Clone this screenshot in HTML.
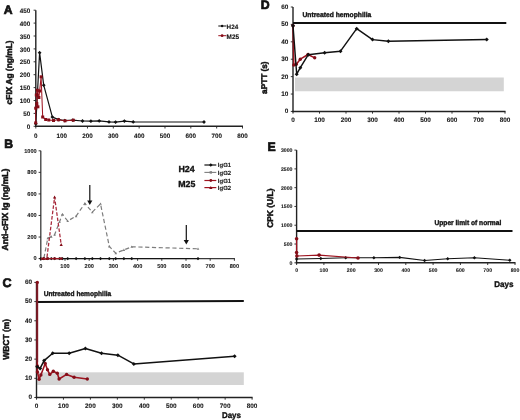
<!DOCTYPE html>
<html><head><meta charset="utf-8"><style>
html,body{margin:0;padding:0;background:#fff;width:520px;height:420px;overflow:hidden}
svg{display:block;will-change:transform;filter:blur(0.35px)}
text{font-family:"Liberation Sans", sans-serif;text-rendering:geometricPrecision;stroke:#111;stroke-width:0.35px;paint-order:stroke}
text.tk{stroke-width:0.1px}
</style></head><body>
<svg width="520" height="420" viewBox="0 0 520 420">
<rect width="520" height="420" fill="#fff"/>
<text x="8.25" y="13.5" font-size="12.2" text-anchor="middle" font-weight="bold" fill="#111" style="stroke-width:0.7px">A</text>
<line x1="35.8" y1="10.2" x2="35.8" y2="127" stroke="#222" stroke-width="1.4" />
<line x1="35.1" y1="126.3" x2="243" y2="126.3" stroke="#222" stroke-width="1.4" />
<line x1="33.6" y1="126.3" x2="35.8" y2="126.3" stroke="#222" stroke-width="0.9" />
<text x="30.3" y="128.92" font-size="6.3" text-anchor="end" font-weight="bold" fill="#1a1a1a" class="tk">0</text>
<line x1="33.6" y1="113.4" x2="35.8" y2="113.4" stroke="#222" stroke-width="0.9" />
<text x="30.3" y="116.02" font-size="6.3" text-anchor="end" font-weight="bold" fill="#1a1a1a" class="tk">50</text>
<line x1="33.6" y1="100.5" x2="35.8" y2="100.5" stroke="#222" stroke-width="0.9" />
<text x="30.3" y="103.12" font-size="6.3" text-anchor="end" font-weight="bold" fill="#1a1a1a" class="tk">100</text>
<line x1="33.6" y1="87.6" x2="35.8" y2="87.6" stroke="#222" stroke-width="0.9" />
<text x="30.3" y="90.22" font-size="6.3" text-anchor="end" font-weight="bold" fill="#1a1a1a" class="tk">150</text>
<line x1="33.6" y1="74.7" x2="35.8" y2="74.7" stroke="#222" stroke-width="0.9" />
<text x="30.3" y="77.32" font-size="6.3" text-anchor="end" font-weight="bold" fill="#1a1a1a" class="tk">200</text>
<line x1="33.6" y1="61.8" x2="35.8" y2="61.8" stroke="#222" stroke-width="0.9" />
<text x="30.3" y="64.42" font-size="6.3" text-anchor="end" font-weight="bold" fill="#1a1a1a" class="tk">250</text>
<line x1="33.6" y1="48.9" x2="35.8" y2="48.9" stroke="#222" stroke-width="0.9" />
<text x="30.3" y="51.52" font-size="6.3" text-anchor="end" font-weight="bold" fill="#1a1a1a" class="tk">300</text>
<line x1="33.6" y1="36" x2="35.8" y2="36" stroke="#222" stroke-width="0.9" />
<text x="30.3" y="38.62" font-size="6.3" text-anchor="end" font-weight="bold" fill="#1a1a1a" class="tk">350</text>
<line x1="33.6" y1="23.1" x2="35.8" y2="23.1" stroke="#222" stroke-width="0.9" />
<text x="30.3" y="25.72" font-size="6.3" text-anchor="end" font-weight="bold" fill="#1a1a1a" class="tk">400</text>
<line x1="33.6" y1="10.2" x2="35.8" y2="10.2" stroke="#222" stroke-width="0.9" />
<text x="30.3" y="12.82" font-size="6.3" text-anchor="end" font-weight="bold" fill="#1a1a1a" class="tk">450</text>
<line x1="35.8" y1="126.3" x2="35.8" y2="128.5" stroke="#222" stroke-width="0.9" />
<text x="35.8" y="138.27" font-size="6.3" text-anchor="middle" font-weight="bold" fill="#1a1a1a" class="tk">0</text>
<line x1="61.64" y1="126.3" x2="61.64" y2="128.5" stroke="#222" stroke-width="0.9" />
<text x="61.64" y="138.27" font-size="6.3" text-anchor="middle" font-weight="bold" fill="#1a1a1a" class="tk">100</text>
<line x1="87.47" y1="126.3" x2="87.47" y2="128.5" stroke="#222" stroke-width="0.9" />
<text x="87.47" y="138.27" font-size="6.3" text-anchor="middle" font-weight="bold" fill="#1a1a1a" class="tk">200</text>
<line x1="113.31" y1="126.3" x2="113.31" y2="128.5" stroke="#222" stroke-width="0.9" />
<text x="113.31" y="138.27" font-size="6.3" text-anchor="middle" font-weight="bold" fill="#1a1a1a" class="tk">300</text>
<line x1="139.15" y1="126.3" x2="139.15" y2="128.5" stroke="#222" stroke-width="0.9" />
<text x="139.15" y="138.27" font-size="6.3" text-anchor="middle" font-weight="bold" fill="#1a1a1a" class="tk">400</text>
<line x1="164.99" y1="126.3" x2="164.99" y2="128.5" stroke="#222" stroke-width="0.9" />
<text x="164.99" y="138.27" font-size="6.3" text-anchor="middle" font-weight="bold" fill="#1a1a1a" class="tk">500</text>
<line x1="190.82" y1="126.3" x2="190.82" y2="128.5" stroke="#222" stroke-width="0.9" />
<text x="190.82" y="138.27" font-size="6.3" text-anchor="middle" font-weight="bold" fill="#1a1a1a" class="tk">600</text>
<line x1="216.66" y1="126.3" x2="216.66" y2="128.5" stroke="#222" stroke-width="0.9" />
<text x="216.66" y="138.27" font-size="6.3" text-anchor="middle" font-weight="bold" fill="#1a1a1a" class="tk">700</text>
<line x1="242.5" y1="126.3" x2="242.5" y2="128.5" stroke="#222" stroke-width="0.9" />
<text x="242.5" y="138.27" font-size="6.3" text-anchor="middle" font-weight="bold" fill="#1a1a1a" class="tk">800</text>
<text transform="translate(12,72.4) rotate(-90)" font-size="8.5" font-weight="bold" text-anchor="middle" fill="#111" style="stroke-width:0.5px" textLength="64" lengthAdjust="spacingAndGlyphs">cFIX Ag (ng/mL)</text>
<polyline points="35.8,123.7 39.6,52.7 43.7,85.2 52.4,117.1 58.7,119.6 64.8,120.6 72.9,120.2 82.5,121 90.9,121.2 99.2,120.9 109,121.9 115.6,122.1 124.4,121.1 133.2,121.9 204,122" fill="none" stroke="#111" stroke-width="1.2" stroke-linejoin="round" />
<path d="M35.8 121.8L37.7 123.7L35.8 125.6L33.9 123.7Z" fill="#111"/>
<path d="M39.6 50.8L41.5 52.7L39.6 54.6L37.7 52.7Z" fill="#111"/>
<path d="M43.7 83.3L45.6 85.2L43.7 87.1L41.8 85.2Z" fill="#111"/>
<path d="M52.4 115.2L54.3 117.1L52.4 119L50.5 117.1Z" fill="#111"/>
<path d="M58.7 117.7L60.6 119.6L58.7 121.5L56.8 119.6Z" fill="#111"/>
<path d="M64.8 118.7L66.7 120.6L64.8 122.5L62.9 120.6Z" fill="#111"/>
<path d="M72.9 118.3L74.8 120.2L72.9 122.1L71 120.2Z" fill="#111"/>
<path d="M82.5 119.1L84.4 121L82.5 122.9L80.6 121Z" fill="#111"/>
<path d="M90.9 119.3L92.8 121.2L90.9 123.1L89 121.2Z" fill="#111"/>
<path d="M99.2 119L101.1 120.9L99.2 122.8L97.3 120.9Z" fill="#111"/>
<path d="M109 120L110.9 121.9L109 123.8L107.1 121.9Z" fill="#111"/>
<path d="M115.6 120.2L117.5 122.1L115.6 124L113.7 122.1Z" fill="#111"/>
<path d="M124.4 119.2L126.3 121.1L124.4 123L122.5 121.1Z" fill="#111"/>
<path d="M133.2 120L135.1 121.9L133.2 123.8L131.3 121.9Z" fill="#111"/>
<path d="M204 120.1L205.9 122L204 123.9L202.1 122Z" fill="#111"/>
<polyline points="35.7,122.9 35.7,108.2 36.8,103.6 37.9,106.8 36.3,95 37.3,90.2 38.9,97.5 39.6,91 41.1,76.8 42.7,117 45.7,119.5 48.8,120 53.5,120.5 58.5,119.8 65,120.8 73.3,120.2" fill="none" stroke="#9e1420" stroke-width="1.05" stroke-linejoin="round" />
<rect x="34.2" y="121.4" width="3" height="3" fill="#850d18"/>
<rect x="34.2" y="106.7" width="3" height="3" fill="#850d18"/>
<rect x="35.3" y="102.1" width="3" height="3" fill="#850d18"/>
<rect x="36.4" y="105.3" width="3" height="3" fill="#850d18"/>
<rect x="34.8" y="93.5" width="3" height="3" fill="#850d18"/>
<rect x="35.8" y="88.7" width="3" height="3" fill="#850d18"/>
<rect x="37.4" y="96" width="3" height="3" fill="#850d18"/>
<rect x="38.1" y="89.5" width="3" height="3" fill="#850d18"/>
<rect x="39.6" y="75.3" width="3" height="3" fill="#850d18"/>
<rect x="41.2" y="115.5" width="3" height="3" fill="#850d18"/>
<rect x="44.2" y="118" width="3" height="3" fill="#850d18"/>
<rect x="47.3" y="118.5" width="3" height="3" fill="#850d18"/>
<rect x="52" y="119" width="3" height="3" fill="#850d18"/>
<rect x="57" y="118.3" width="3" height="3" fill="#850d18"/>
<rect x="63.5" y="119.3" width="3" height="3" fill="#850d18"/>
<rect x="71.8" y="118.7" width="3" height="3" fill="#850d18"/>
<line x1="218.3" y1="26" x2="226.4" y2="26" stroke="#111" stroke-width="1.0" />
<circle cx="222.1" cy="26" r="1.2" fill="#111"/>
<text x="226.6" y="29.2" font-size="6.3" text-anchor="start" font-weight="bold" fill="#111" class="tk">H24</text>
<line x1="218.3" y1="35.7" x2="226.4" y2="35.7" stroke="#9e1420" stroke-width="1.0" />
<circle cx="222.1" cy="35.7" r="1.4" fill="#850d18"/>
<text x="226.6" y="38.6" font-size="6.4" text-anchor="start" font-weight="bold" fill="#111" class="tk">M25</text>
<text x="8.55" y="147.8" font-size="12.2" text-anchor="middle" font-weight="bold" fill="#111" style="stroke-width:0.7px">B</text>
<line x1="40.8" y1="150.8" x2="40.8" y2="259.3" stroke="#3a3a3a" stroke-width="1.3" />
<line x1="40.1" y1="258.6" x2="234.9" y2="258.6" stroke="#3a3a3a" stroke-width="1.3" />
<line x1="38.6" y1="258.6" x2="40.8" y2="258.6" stroke="#222" stroke-width="0.9" />
<text x="36.7" y="260.37" font-size="5.6" text-anchor="end" font-weight="bold" fill="#1a1a1a" class="tk">0</text>
<line x1="38.6" y1="237.04" x2="40.8" y2="237.04" stroke="#222" stroke-width="0.9" />
<text x="36.7" y="238.81" font-size="5.6" text-anchor="end" font-weight="bold" fill="#1a1a1a" class="tk">200</text>
<line x1="38.6" y1="215.48" x2="40.8" y2="215.48" stroke="#222" stroke-width="0.9" />
<text x="36.7" y="217.25" font-size="5.6" text-anchor="end" font-weight="bold" fill="#1a1a1a" class="tk">400</text>
<line x1="38.6" y1="193.92" x2="40.8" y2="193.92" stroke="#222" stroke-width="0.9" />
<text x="36.7" y="195.69" font-size="5.6" text-anchor="end" font-weight="bold" fill="#1a1a1a" class="tk">600</text>
<line x1="38.6" y1="172.36" x2="40.8" y2="172.36" stroke="#222" stroke-width="0.9" />
<text x="36.7" y="174.13" font-size="5.6" text-anchor="end" font-weight="bold" fill="#1a1a1a" class="tk">800</text>
<line x1="38.6" y1="150.8" x2="40.8" y2="150.8" stroke="#222" stroke-width="0.9" />
<text x="36.7" y="152.57" font-size="5.6" text-anchor="end" font-weight="bold" fill="#1a1a1a" class="tk">1000</text>
<line x1="40.8" y1="258.6" x2="40.8" y2="260.8" stroke="#222" stroke-width="0.9" />
<text x="40.8" y="268.12" font-size="5.6" text-anchor="middle" font-weight="bold" fill="#1a1a1a" class="tk">0</text>
<line x1="65" y1="258.6" x2="65" y2="260.8" stroke="#222" stroke-width="0.9" />
<text x="65" y="268.12" font-size="5.6" text-anchor="middle" font-weight="bold" fill="#1a1a1a" class="tk">100</text>
<line x1="89.2" y1="258.6" x2="89.2" y2="260.8" stroke="#222" stroke-width="0.9" />
<text x="89.2" y="268.12" font-size="5.6" text-anchor="middle" font-weight="bold" fill="#1a1a1a" class="tk">200</text>
<line x1="113.4" y1="258.6" x2="113.4" y2="260.8" stroke="#222" stroke-width="0.9" />
<text x="113.4" y="268.12" font-size="5.6" text-anchor="middle" font-weight="bold" fill="#1a1a1a" class="tk">300</text>
<line x1="137.6" y1="258.6" x2="137.6" y2="260.8" stroke="#222" stroke-width="0.9" />
<text x="137.6" y="268.12" font-size="5.6" text-anchor="middle" font-weight="bold" fill="#1a1a1a" class="tk">400</text>
<line x1="161.8" y1="258.6" x2="161.8" y2="260.8" stroke="#222" stroke-width="0.9" />
<text x="161.8" y="268.12" font-size="5.6" text-anchor="middle" font-weight="bold" fill="#1a1a1a" class="tk">500</text>
<line x1="186" y1="258.6" x2="186" y2="260.8" stroke="#222" stroke-width="0.9" />
<text x="186" y="268.12" font-size="5.6" text-anchor="middle" font-weight="bold" fill="#1a1a1a" class="tk">600</text>
<line x1="210.2" y1="258.6" x2="210.2" y2="260.8" stroke="#222" stroke-width="0.9" />
<text x="210.2" y="268.12" font-size="5.6" text-anchor="middle" font-weight="bold" fill="#1a1a1a" class="tk">700</text>
<line x1="234.4" y1="258.6" x2="234.4" y2="260.8" stroke="#222" stroke-width="0.9" />
<text x="234.4" y="268.12" font-size="5.6" text-anchor="middle" font-weight="bold" fill="#1a1a1a" class="tk">800</text>
<text transform="translate(8,209.5) rotate(-90)" font-size="8.7" font-weight="bold" text-anchor="middle" fill="#111" style="stroke-width:0.5px" textLength="82" lengthAdjust="spacingAndGlyphs">Anti-cFIX Ig (ng/mL)</text>
<polyline points="43.9,258.1 47.8,238.2 51.3,236.6 54.6,234.7 59.5,222 62.4,214.2 67.7,221 76.1,216.1 84.9,203.4 92.3,212.2 100.5,203.8 109.3,246.4 115.7,253.2 123.9,249.9 131.75,246.8 198,248.8" fill="none" stroke="#7d7d7d" stroke-width="1.2" stroke-linejoin="round" stroke-dasharray="4.2,2.6"/>
<path d="M43.9 256.8L45.2 259.14L42.6 259.14Z" fill="#7d7d7d"/>
<path d="M47.8 236.9L49.1 239.24L46.5 239.24Z" fill="#7d7d7d"/>
<path d="M51.3 235.3L52.6 237.64L50 237.64Z" fill="#7d7d7d"/>
<path d="M54.6 233.4L55.9 235.74L53.3 235.74Z" fill="#7d7d7d"/>
<path d="M59.5 220.7L60.8 223.04L58.2 223.04Z" fill="#7d7d7d"/>
<path d="M62.4 212.9L63.7 215.24L61.1 215.24Z" fill="#7d7d7d"/>
<path d="M67.7 219.7L69 222.04L66.4 222.04Z" fill="#7d7d7d"/>
<path d="M76.1 214.8L77.4 217.14L74.8 217.14Z" fill="#7d7d7d"/>
<path d="M84.9 202.1L86.2 204.44L83.6 204.44Z" fill="#7d7d7d"/>
<path d="M92.3 210.9L93.6 213.24L91 213.24Z" fill="#7d7d7d"/>
<path d="M100.5 202.5L101.8 204.84L99.2 204.84Z" fill="#7d7d7d"/>
<path d="M109.3 245.1L110.6 247.44L108 247.44Z" fill="#7d7d7d"/>
<path d="M115.7 251.9L117 254.24L114.4 254.24Z" fill="#7d7d7d"/>
<path d="M123.9 248.6L125.2 250.94L122.6 250.94Z" fill="#7d7d7d"/>
<path d="M131.75 245.5L133.05 247.84L130.45 247.84Z" fill="#7d7d7d"/>
<path d="M198 247.5L199.3 249.84L196.7 249.84Z" fill="#7d7d7d"/>
<polyline points="40.8,258.6 43.9,258.6 47.8,258.6 51.3,258.6 54.6,258.6 59.5,258.6 62.4,258.6 67.7,258.6 76.1,258.6 84.9,258.6 92.3,258.6 100.5,258.6 109.3,258.6 115.7,258.6 123.9,258.6 131.75,258.6 198,258.6" fill="none" stroke="#111" stroke-width="1.0" stroke-linejoin="round" />
<path d="M40.8 256.9L42.5 258.6L40.8 260.3L39.1 258.6Z" fill="#111"/>
<path d="M43.9 256.9L45.6 258.6L43.9 260.3L42.2 258.6Z" fill="#111"/>
<path d="M47.8 256.9L49.5 258.6L47.8 260.3L46.1 258.6Z" fill="#111"/>
<path d="M51.3 256.9L53 258.6L51.3 260.3L49.6 258.6Z" fill="#111"/>
<path d="M54.6 256.9L56.3 258.6L54.6 260.3L52.9 258.6Z" fill="#111"/>
<path d="M59.5 256.9L61.2 258.6L59.5 260.3L57.8 258.6Z" fill="#111"/>
<path d="M62.4 256.9L64.1 258.6L62.4 260.3L60.7 258.6Z" fill="#111"/>
<path d="M67.7 256.9L69.4 258.6L67.7 260.3L66 258.6Z" fill="#111"/>
<path d="M76.1 256.9L77.8 258.6L76.1 260.3L74.4 258.6Z" fill="#111"/>
<path d="M84.9 256.9L86.6 258.6L84.9 260.3L83.2 258.6Z" fill="#111"/>
<path d="M92.3 256.9L94 258.6L92.3 260.3L90.6 258.6Z" fill="#111"/>
<path d="M100.5 256.9L102.2 258.6L100.5 260.3L98.8 258.6Z" fill="#111"/>
<path d="M109.3 256.9L111 258.6L109.3 260.3L107.6 258.6Z" fill="#111"/>
<path d="M115.7 256.9L117.4 258.6L115.7 260.3L114 258.6Z" fill="#111"/>
<path d="M123.9 256.9L125.6 258.6L123.9 260.3L122.2 258.6Z" fill="#111"/>
<path d="M131.75 256.9L133.45 258.6L131.75 260.3L130.05 258.6Z" fill="#111"/>
<path d="M198 256.9L199.7 258.6L198 260.3L196.3 258.6Z" fill="#111"/>
<line x1="40.8" y1="258.6" x2="62.5" y2="258.6" stroke="#9e1420" stroke-width="1.3" />
<circle cx="43.7" cy="258.6" r="1.3" fill="#850d18"/>
<circle cx="47.7" cy="258.6" r="1.3" fill="#850d18"/>
<circle cx="54.6" cy="258.6" r="1.3" fill="#850d18"/>
<circle cx="61.1" cy="258.6" r="1.3" fill="#850d18"/>
<polyline points="42.9,258.6 46.8,258.6 54.6,197.2 61.2,244.6" fill="none" stroke="#a8283a" stroke-width="1.25" stroke-linejoin="round" stroke-dasharray="3.6,1.8"/>
<path d="M42.9 257L44.5 259.88L41.3 259.88Z" fill="#850d18"/>
<path d="M46.8 257L48.4 259.88L45.2 259.88Z" fill="#850d18"/>
<path d="M54.6 195.6L56.2 198.48L53 198.48Z" fill="#850d18"/>
<path d="M61.2 243L62.8 245.88L59.6 245.88Z" fill="#850d18"/>
<line x1="89.8" y1="185" x2="89.8" y2="202" stroke="#111" stroke-width="1.2" />
<path d="M87.2 200.5L92.4 200.5L89.8 205Z" fill="#111"/>
<line x1="186.3" y1="225" x2="186.3" y2="241.5" stroke="#111" stroke-width="1.2" />
<path d="M183.7 240L188.9 240L186.3 244.5Z" fill="#111"/>
<text x="186.5" y="172.2" font-size="8.8" text-anchor="middle" font-weight="bold" fill="#111" >H24</text>
<text x="186.8" y="186.6" font-size="8.8" text-anchor="middle" font-weight="bold" fill="#111" >M25</text>
<line x1="204.4" y1="165" x2="216.3" y2="165" stroke="#111" stroke-width="1.2" />
<path d="M210.8 163.2L212.6 165L210.8 166.8L209 165Z" fill="#111"/>
<line x1="204.4" y1="172.4" x2="216.3" y2="172.4" stroke="#7d7d7d" stroke-width="1.1" />
<rect x="209.6" y="171.2" width="2.4" height="2.4" fill="#7d7d7d"/>
<line x1="204.4" y1="180.5" x2="216.3" y2="180.5" stroke="#9e1420" stroke-width="1.2" />
<circle cx="210.8" cy="180.5" r="1.4" fill="#850d18"/>
<line x1="204.4" y1="187.6" x2="216.3" y2="187.6" stroke="#9e1420" stroke-width="1.2" />
<path d="M210.8 185.9L212.5 188.96L209.1 188.96Z" fill="#850d18"/>
<text x="217.8" y="166.9" font-size="6.0" text-anchor="start" font-weight="bold" fill="#222" class="tk">IgG1</text>
<text x="217.8" y="174.6" font-size="6.0" text-anchor="start" font-weight="bold" fill="#222" class="tk">IgG2</text>
<text x="217.8" y="182.5" font-size="6.0" text-anchor="start" font-weight="bold" fill="#222" class="tk">IgG1</text>
<text x="217.8" y="189.8" font-size="6.0" text-anchor="start" font-weight="bold" fill="#222" class="tk">IgG2</text>
<rect x="37.2" y="372.3" width="206.6" height="12.7" fill="#d4d4d4"/>
<text x="7" y="286.6" font-size="12.5" text-anchor="middle" font-weight="bold" fill="#111" style="stroke-width:0.7px">C</text>
<line x1="36.5" y1="282.4" x2="36.5" y2="398.2" stroke="#222" stroke-width="1.4" />
<line x1="35.8" y1="397.5" x2="252.6" y2="397.5" stroke="#222" stroke-width="1.4" />
<line x1="34.3" y1="397.5" x2="36.5" y2="397.5" stroke="#222" stroke-width="0.9" />
<text x="32.1" y="399.3" font-size="6.4" text-anchor="end" font-weight="bold" fill="#1a1a1a" class="tk">0</text>
<line x1="34.3" y1="378.32" x2="36.5" y2="378.32" stroke="#222" stroke-width="0.9" />
<text x="32.1" y="380.12" font-size="6.4" text-anchor="end" font-weight="bold" fill="#1a1a1a" class="tk">10</text>
<line x1="34.3" y1="359.13" x2="36.5" y2="359.13" stroke="#222" stroke-width="0.9" />
<text x="32.1" y="360.94" font-size="6.4" text-anchor="end" font-weight="bold" fill="#1a1a1a" class="tk">20</text>
<line x1="34.3" y1="339.95" x2="36.5" y2="339.95" stroke="#222" stroke-width="0.9" />
<text x="32.1" y="341.75" font-size="6.4" text-anchor="end" font-weight="bold" fill="#1a1a1a" class="tk">30</text>
<line x1="34.3" y1="320.77" x2="36.5" y2="320.77" stroke="#222" stroke-width="0.9" />
<text x="32.1" y="322.57" font-size="6.4" text-anchor="end" font-weight="bold" fill="#1a1a1a" class="tk">40</text>
<line x1="34.3" y1="301.58" x2="36.5" y2="301.58" stroke="#222" stroke-width="0.9" />
<text x="32.1" y="303.39" font-size="6.4" text-anchor="end" font-weight="bold" fill="#1a1a1a" class="tk">50</text>
<line x1="34.3" y1="282.4" x2="36.5" y2="282.4" stroke="#222" stroke-width="0.9" />
<text x="32.1" y="284.2" font-size="6.4" text-anchor="end" font-weight="bold" fill="#1a1a1a" class="tk">60</text>
<line x1="36.5" y1="397.5" x2="36.5" y2="399.7" stroke="#222" stroke-width="0.9" />
<text x="36.5" y="407.7" font-size="6.4" text-anchor="middle" font-weight="bold" fill="#1a1a1a" class="tk">0</text>
<line x1="63.45" y1="397.5" x2="63.45" y2="399.7" stroke="#222" stroke-width="0.9" />
<text x="63.45" y="407.7" font-size="6.4" text-anchor="middle" font-weight="bold" fill="#1a1a1a" class="tk">100</text>
<line x1="90.4" y1="397.5" x2="90.4" y2="399.7" stroke="#222" stroke-width="0.9" />
<text x="90.4" y="407.7" font-size="6.4" text-anchor="middle" font-weight="bold" fill="#1a1a1a" class="tk">200</text>
<line x1="117.35" y1="397.5" x2="117.35" y2="399.7" stroke="#222" stroke-width="0.9" />
<text x="117.35" y="407.7" font-size="6.4" text-anchor="middle" font-weight="bold" fill="#1a1a1a" class="tk">300</text>
<line x1="144.3" y1="397.5" x2="144.3" y2="399.7" stroke="#222" stroke-width="0.9" />
<text x="144.3" y="407.7" font-size="6.4" text-anchor="middle" font-weight="bold" fill="#1a1a1a" class="tk">400</text>
<line x1="171.25" y1="397.5" x2="171.25" y2="399.7" stroke="#222" stroke-width="0.9" />
<text x="171.25" y="407.7" font-size="6.4" text-anchor="middle" font-weight="bold" fill="#1a1a1a" class="tk">500</text>
<line x1="198.2" y1="397.5" x2="198.2" y2="399.7" stroke="#222" stroke-width="0.9" />
<text x="198.2" y="407.7" font-size="6.4" text-anchor="middle" font-weight="bold" fill="#1a1a1a" class="tk">600</text>
<line x1="225.15" y1="397.5" x2="225.15" y2="399.7" stroke="#222" stroke-width="0.9" />
<text x="225.15" y="407.7" font-size="6.4" text-anchor="middle" font-weight="bold" fill="#1a1a1a" class="tk">700</text>
<line x1="252.1" y1="397.5" x2="252.1" y2="399.7" stroke="#222" stroke-width="0.9" />
<text x="252.1" y="407.7" font-size="6.4" text-anchor="middle" font-weight="bold" fill="#1a1a1a" class="tk">800</text>
<text transform="translate(8.9,339.3) rotate(-90)" font-size="8.6" font-weight="bold" text-anchor="middle" fill="#111" style="stroke-width:0.5px" textLength="41" lengthAdjust="spacingAndGlyphs">WBCT (m)</text>
<line x1="36.5" y1="302" x2="243.8" y2="300.9" stroke="#111" stroke-width="2.0" />
<text x="43.75" y="296.2" font-size="7.0" text-anchor="start" font-weight="bold" fill="#111" textLength="67.5" lengthAdjust="spacingAndGlyphs">Untreated hemophilia</text>
<polyline points="37.3,282.4 37.3,366 37.4,372 39.1,379.3 40.9,375 45.2,363.5 47.5,369.8 49.8,374.4 53.3,371.3 57.3,373.3 59.1,379 66.6,374.4 74.1,377.3 87.3,379" fill="none" stroke="#9e1420" stroke-width="1.6" stroke-linejoin="round" />
<circle cx="37.3" cy="282.4" r="1.7" fill="#850d18"/>
<circle cx="37.3" cy="366" r="1.7" fill="#850d18"/>
<circle cx="37.4" cy="372" r="1.7" fill="#850d18"/>
<circle cx="39.1" cy="379.3" r="1.7" fill="#850d18"/>
<circle cx="40.9" cy="375" r="1.7" fill="#850d18"/>
<circle cx="45.2" cy="363.5" r="1.7" fill="#850d18"/>
<circle cx="47.5" cy="369.8" r="1.7" fill="#850d18"/>
<circle cx="49.8" cy="374.4" r="1.7" fill="#850d18"/>
<circle cx="53.3" cy="371.3" r="1.7" fill="#850d18"/>
<circle cx="57.3" cy="373.3" r="1.7" fill="#850d18"/>
<circle cx="59.1" cy="379" r="1.7" fill="#850d18"/>
<circle cx="66.6" cy="374.4" r="1.7" fill="#850d18"/>
<circle cx="74.1" cy="377.3" r="1.7" fill="#850d18"/>
<circle cx="87.3" cy="379" r="1.7" fill="#850d18"/>
<line x1="37.3" y1="284" x2="37.3" y2="362" stroke="#7e1a26" stroke-width="1.6" />
<polyline points="37.2,366.8 40.1,368.4 44.1,360.6 52.7,353.3 69.2,353.3 85.4,348.5 101.5,353.3 117.9,355.2 133.8,363.9 234.6,356.25" fill="none" stroke="#111" stroke-width="1.5" stroke-linejoin="round" />
<path d="M37.2 364.8L39.2 366.8L37.2 368.8L35.2 366.8Z" fill="#111"/>
<path d="M40.1 366.4L42.1 368.4L40.1 370.4L38.1 368.4Z" fill="#111"/>
<path d="M44.1 358.6L46.1 360.6L44.1 362.6L42.1 360.6Z" fill="#111"/>
<path d="M52.7 351.3L54.7 353.3L52.7 355.3L50.7 353.3Z" fill="#111"/>
<path d="M69.2 351.3L71.2 353.3L69.2 355.3L67.2 353.3Z" fill="#111"/>
<path d="M85.4 346.5L87.4 348.5L85.4 350.5L83.4 348.5Z" fill="#111"/>
<path d="M101.5 351.3L103.5 353.3L101.5 355.3L99.5 353.3Z" fill="#111"/>
<path d="M117.9 353.2L119.9 355.2L117.9 357.2L115.9 355.2Z" fill="#111"/>
<path d="M133.8 361.9L135.8 363.9L133.8 365.9L131.8 363.9Z" fill="#111"/>
<path d="M234.6 354.25L236.6 356.25L234.6 358.25L232.6 356.25Z" fill="#111"/>
<text x="221.9" y="418.1" font-size="8.3" text-anchor="start" font-weight="bold" fill="#111" textLength="19" lengthAdjust="spacingAndGlyphs">Days</text>
<rect x="295" y="77.5" width="208.8" height="13.75" fill="#d4d4d4"/>
<text x="265.2" y="8.6" font-size="12.3" text-anchor="middle" font-weight="bold" fill="#111" style="stroke-width:0.7px">D</text>
<line x1="293" y1="7" x2="293" y2="112.15" stroke="#222" stroke-width="1.4" />
<line x1="292.3" y1="111.45" x2="505.5" y2="111.45" stroke="#222" stroke-width="1.4" />
<line x1="290.8" y1="111.45" x2="293" y2="111.45" stroke="#222" stroke-width="0.9" />
<text x="288.3" y="113.4" font-size="6.4" text-anchor="end" font-weight="bold" fill="#1a1a1a" class="tk">0</text>
<line x1="290.8" y1="94.04" x2="293" y2="94.04" stroke="#222" stroke-width="0.9" />
<text x="288.3" y="96" font-size="6.4" text-anchor="end" font-weight="bold" fill="#1a1a1a" class="tk">10</text>
<line x1="290.8" y1="76.63" x2="293" y2="76.63" stroke="#222" stroke-width="0.9" />
<text x="288.3" y="78.59" font-size="6.4" text-anchor="end" font-weight="bold" fill="#1a1a1a" class="tk">20</text>
<line x1="290.8" y1="59.23" x2="293" y2="59.23" stroke="#222" stroke-width="0.9" />
<text x="288.3" y="61.18" font-size="6.4" text-anchor="end" font-weight="bold" fill="#1a1a1a" class="tk">30</text>
<line x1="290.8" y1="41.82" x2="293" y2="41.82" stroke="#222" stroke-width="0.9" />
<text x="288.3" y="43.77" font-size="6.4" text-anchor="end" font-weight="bold" fill="#1a1a1a" class="tk">40</text>
<line x1="290.8" y1="24.41" x2="293" y2="24.41" stroke="#222" stroke-width="0.9" />
<text x="288.3" y="26.36" font-size="6.4" text-anchor="end" font-weight="bold" fill="#1a1a1a" class="tk">50</text>
<line x1="290.8" y1="7" x2="293" y2="7" stroke="#222" stroke-width="0.9" />
<text x="288.3" y="8.95" font-size="6.4" text-anchor="end" font-weight="bold" fill="#1a1a1a" class="tk">60</text>
<line x1="293" y1="111.45" x2="293" y2="113.65" stroke="#222" stroke-width="0.9" />
<text x="293" y="121.7" font-size="6.4" text-anchor="middle" font-weight="bold" fill="#1a1a1a" class="tk">0</text>
<line x1="319.5" y1="111.45" x2="319.5" y2="113.65" stroke="#222" stroke-width="0.9" />
<text x="319.5" y="121.7" font-size="6.4" text-anchor="middle" font-weight="bold" fill="#1a1a1a" class="tk">100</text>
<line x1="346" y1="111.45" x2="346" y2="113.65" stroke="#222" stroke-width="0.9" />
<text x="346" y="121.7" font-size="6.4" text-anchor="middle" font-weight="bold" fill="#1a1a1a" class="tk">200</text>
<line x1="372.5" y1="111.45" x2="372.5" y2="113.65" stroke="#222" stroke-width="0.9" />
<text x="372.5" y="121.7" font-size="6.4" text-anchor="middle" font-weight="bold" fill="#1a1a1a" class="tk">300</text>
<line x1="399" y1="111.45" x2="399" y2="113.65" stroke="#222" stroke-width="0.9" />
<text x="399" y="121.7" font-size="6.4" text-anchor="middle" font-weight="bold" fill="#1a1a1a" class="tk">400</text>
<line x1="425.5" y1="111.45" x2="425.5" y2="113.65" stroke="#222" stroke-width="0.9" />
<text x="425.5" y="121.7" font-size="6.4" text-anchor="middle" font-weight="bold" fill="#1a1a1a" class="tk">500</text>
<line x1="452" y1="111.45" x2="452" y2="113.65" stroke="#222" stroke-width="0.9" />
<text x="452" y="121.7" font-size="6.4" text-anchor="middle" font-weight="bold" fill="#1a1a1a" class="tk">600</text>
<line x1="478.5" y1="111.45" x2="478.5" y2="113.65" stroke="#222" stroke-width="0.9" />
<text x="478.5" y="121.7" font-size="6.4" text-anchor="middle" font-weight="bold" fill="#1a1a1a" class="tk">700</text>
<line x1="505" y1="111.45" x2="505" y2="113.65" stroke="#222" stroke-width="0.9" />
<text x="505" y="121.7" font-size="6.4" text-anchor="middle" font-weight="bold" fill="#1a1a1a" class="tk">800</text>
<text transform="translate(267,77.7) rotate(-90)" font-size="8.3" font-weight="bold" text-anchor="middle" fill="#111" style="stroke-width:0.5px" textLength="32.4" lengthAdjust="spacingAndGlyphs">aPTT (s)</text>
<line x1="293" y1="23.05" x2="506.3" y2="23.05" stroke="#111" stroke-width="2.0" />
<text x="302.5" y="16.6" font-size="7.0" text-anchor="start" font-weight="bold" fill="#111" textLength="68.75" lengthAdjust="spacingAndGlyphs">Untreated hemophilia</text>
<polyline points="293,25.8 293.8,65 296.3,64.2 300.3,59.2 308,54.5 314.7,57.8" fill="none" stroke="#9e1420" stroke-width="1.5" stroke-linejoin="round" />
<circle cx="293" cy="25.8" r="1.7" fill="#850d18"/>
<circle cx="293.8" cy="65" r="1.7" fill="#850d18"/>
<circle cx="296.3" cy="64.2" r="1.7" fill="#850d18"/>
<circle cx="300.3" cy="59.2" r="1.7" fill="#850d18"/>
<circle cx="308" cy="54.5" r="1.7" fill="#850d18"/>
<circle cx="314.7" cy="57.8" r="1.7" fill="#850d18"/>
<polyline points="293,25.8 296.7,74.2 300.3,67.7 308.3,54.7 324.6,52.7 340.5,51.2 356.7,28.65 372.5,39.6 388.4,41.3 486.75,39.5" fill="none" stroke="#111" stroke-width="1.45" stroke-linejoin="round" />
<path d="M293 23.8L295 25.8L293 27.8L291 25.8Z" fill="#111"/>
<path d="M296.7 72.2L298.7 74.2L296.7 76.2L294.7 74.2Z" fill="#111"/>
<path d="M300.3 65.7L302.3 67.7L300.3 69.7L298.3 67.7Z" fill="#111"/>
<path d="M308.3 52.7L310.3 54.7L308.3 56.7L306.3 54.7Z" fill="#111"/>
<path d="M324.6 50.7L326.6 52.7L324.6 54.7L322.6 52.7Z" fill="#111"/>
<path d="M340.5 49.2L342.5 51.2L340.5 53.2L338.5 51.2Z" fill="#111"/>
<path d="M356.7 26.65L358.7 28.65L356.7 30.65L354.7 28.65Z" fill="#111"/>
<path d="M372.5 37.6L374.5 39.6L372.5 41.6L370.5 39.6Z" fill="#111"/>
<path d="M388.4 39.3L390.4 41.3L388.4 43.3L386.4 41.3Z" fill="#111"/>
<path d="M486.75 37.5L488.75 39.5L486.75 41.5L484.75 39.5Z" fill="#111"/>
<text x="271.5" y="150.5" font-size="12.3" text-anchor="middle" font-weight="bold" fill="#111" style="stroke-width:0.7px">E</text>
<line x1="296.6" y1="150.1" x2="296.6" y2="263.5" stroke="#222" stroke-width="1.4" />
<line x1="295.9" y1="262.8" x2="515.5" y2="262.8" stroke="#222" stroke-width="1.4" />
<line x1="294.4" y1="262.8" x2="296.6" y2="262.8" stroke="#222" stroke-width="0.9" />
<text x="292.5" y="264.67" font-size="5.2" text-anchor="end" font-weight="bold" fill="#1a1a1a" class="tk">0</text>
<line x1="294.4" y1="244.02" x2="296.6" y2="244.02" stroke="#222" stroke-width="0.9" />
<text x="292.5" y="245.89" font-size="5.2" text-anchor="end" font-weight="bold" fill="#1a1a1a" class="tk">500</text>
<line x1="294.4" y1="225.23" x2="296.6" y2="225.23" stroke="#222" stroke-width="0.9" />
<text x="292.5" y="227.11" font-size="5.2" text-anchor="end" font-weight="bold" fill="#1a1a1a" class="tk">1000</text>
<line x1="294.4" y1="206.45" x2="296.6" y2="206.45" stroke="#222" stroke-width="0.9" />
<text x="292.5" y="208.32" font-size="5.2" text-anchor="end" font-weight="bold" fill="#1a1a1a" class="tk">1500</text>
<line x1="294.4" y1="187.67" x2="296.6" y2="187.67" stroke="#222" stroke-width="0.9" />
<text x="292.5" y="189.54" font-size="5.2" text-anchor="end" font-weight="bold" fill="#1a1a1a" class="tk">2000</text>
<line x1="294.4" y1="168.88" x2="296.6" y2="168.88" stroke="#222" stroke-width="0.9" />
<text x="292.5" y="170.76" font-size="5.2" text-anchor="end" font-weight="bold" fill="#1a1a1a" class="tk">2500</text>
<line x1="294.4" y1="150.1" x2="296.6" y2="150.1" stroke="#222" stroke-width="0.9" />
<text x="292.5" y="151.97" font-size="5.2" text-anchor="end" font-weight="bold" fill="#1a1a1a" class="tk">3000</text>
<line x1="296.6" y1="262.8" x2="296.6" y2="265" stroke="#222" stroke-width="0.9" />
<text x="296.6" y="271.87" font-size="5.2" text-anchor="middle" font-weight="bold" fill="#1a1a1a" class="tk">0</text>
<line x1="323.9" y1="262.8" x2="323.9" y2="265" stroke="#222" stroke-width="0.9" />
<text x="323.9" y="271.87" font-size="5.2" text-anchor="middle" font-weight="bold" fill="#1a1a1a" class="tk">100</text>
<line x1="351.2" y1="262.8" x2="351.2" y2="265" stroke="#222" stroke-width="0.9" />
<text x="351.2" y="271.87" font-size="5.2" text-anchor="middle" font-weight="bold" fill="#1a1a1a" class="tk">200</text>
<line x1="378.5" y1="262.8" x2="378.5" y2="265" stroke="#222" stroke-width="0.9" />
<text x="378.5" y="271.87" font-size="5.2" text-anchor="middle" font-weight="bold" fill="#1a1a1a" class="tk">300</text>
<line x1="405.8" y1="262.8" x2="405.8" y2="265" stroke="#222" stroke-width="0.9" />
<text x="405.8" y="271.87" font-size="5.2" text-anchor="middle" font-weight="bold" fill="#1a1a1a" class="tk">400</text>
<line x1="433.1" y1="262.8" x2="433.1" y2="265" stroke="#222" stroke-width="0.9" />
<text x="433.1" y="271.87" font-size="5.2" text-anchor="middle" font-weight="bold" fill="#1a1a1a" class="tk">500</text>
<line x1="460.4" y1="262.8" x2="460.4" y2="265" stroke="#222" stroke-width="0.9" />
<text x="460.4" y="271.87" font-size="5.2" text-anchor="middle" font-weight="bold" fill="#1a1a1a" class="tk">600</text>
<line x1="487.7" y1="262.8" x2="487.7" y2="265" stroke="#222" stroke-width="0.9" />
<text x="487.7" y="271.87" font-size="5.2" text-anchor="middle" font-weight="bold" fill="#1a1a1a" class="tk">700</text>
<line x1="515" y1="262.8" x2="515" y2="265" stroke="#222" stroke-width="0.9" />
<text x="515" y="271.87" font-size="5.2" text-anchor="middle" font-weight="bold" fill="#1a1a1a" class="tk">800</text>
<text transform="translate(273.2,208.2) rotate(-90)" font-size="8.4" font-weight="bold" text-anchor="middle" fill="#111" style="stroke-width:0.5px" textLength="39.3" lengthAdjust="spacingAndGlyphs">CPK (U/L)</text>
<line x1="296.6" y1="231.05" x2="512.5" y2="231.05" stroke="#111" stroke-width="2.0" />
<text x="434.5" y="225" font-size="7.0" text-anchor="start" font-weight="bold" fill="#111" textLength="66.75" lengthAdjust="spacingAndGlyphs">Upper limit of normal</text>
<polyline points="296.6,259 320.8,258.5 345.7,257.7 373.9,257.7 399.7,257.4 424.6,260.5 447.7,258.8 474.4,257.7 509.8,260.2" fill="none" stroke="#111" stroke-width="1.1" stroke-linejoin="round" />
<path d="M296.6 257.3L298.3 259L296.6 260.7L294.9 259Z" fill="#111"/>
<path d="M320.8 256.8L322.5 258.5L320.8 260.2L319.1 258.5Z" fill="#111"/>
<path d="M345.7 256L347.4 257.7L345.7 259.4L344 257.7Z" fill="#111"/>
<path d="M373.9 256L375.6 257.7L373.9 259.4L372.2 257.7Z" fill="#111"/>
<path d="M399.7 255.7L401.4 257.4L399.7 259.1L398 257.4Z" fill="#111"/>
<path d="M424.6 258.8L426.3 260.5L424.6 262.2L422.9 260.5Z" fill="#111"/>
<path d="M447.7 257.1L449.4 258.8L447.7 260.5L446 258.8Z" fill="#111"/>
<path d="M474.4 256L476.1 257.7L474.4 259.4L472.7 257.7Z" fill="#111"/>
<path d="M509.8 258.5L511.5 260.2L509.8 261.9L508.1 260.2Z" fill="#111"/>
<polyline points="296.6,238.7 296.6,252.5 296.9,256 319.1,255.1 358,258" fill="none" stroke="#9e1420" stroke-width="1.25" stroke-linejoin="round" />
<circle cx="296.6" cy="238.7" r="1.8" fill="#850d18"/>
<circle cx="296.6" cy="252.5" r="1.8" fill="#850d18"/>
<circle cx="296.9" cy="256" r="1.8" fill="#850d18"/>
<circle cx="319.1" cy="255.1" r="1.8" fill="#850d18"/>
<circle cx="358" cy="258" r="1.8" fill="#850d18"/>
<text x="494.3" y="286.5" font-size="8.3" text-anchor="start" font-weight="bold" fill="#111" textLength="19.3" lengthAdjust="spacingAndGlyphs">Days</text>
</svg>
</body></html>
